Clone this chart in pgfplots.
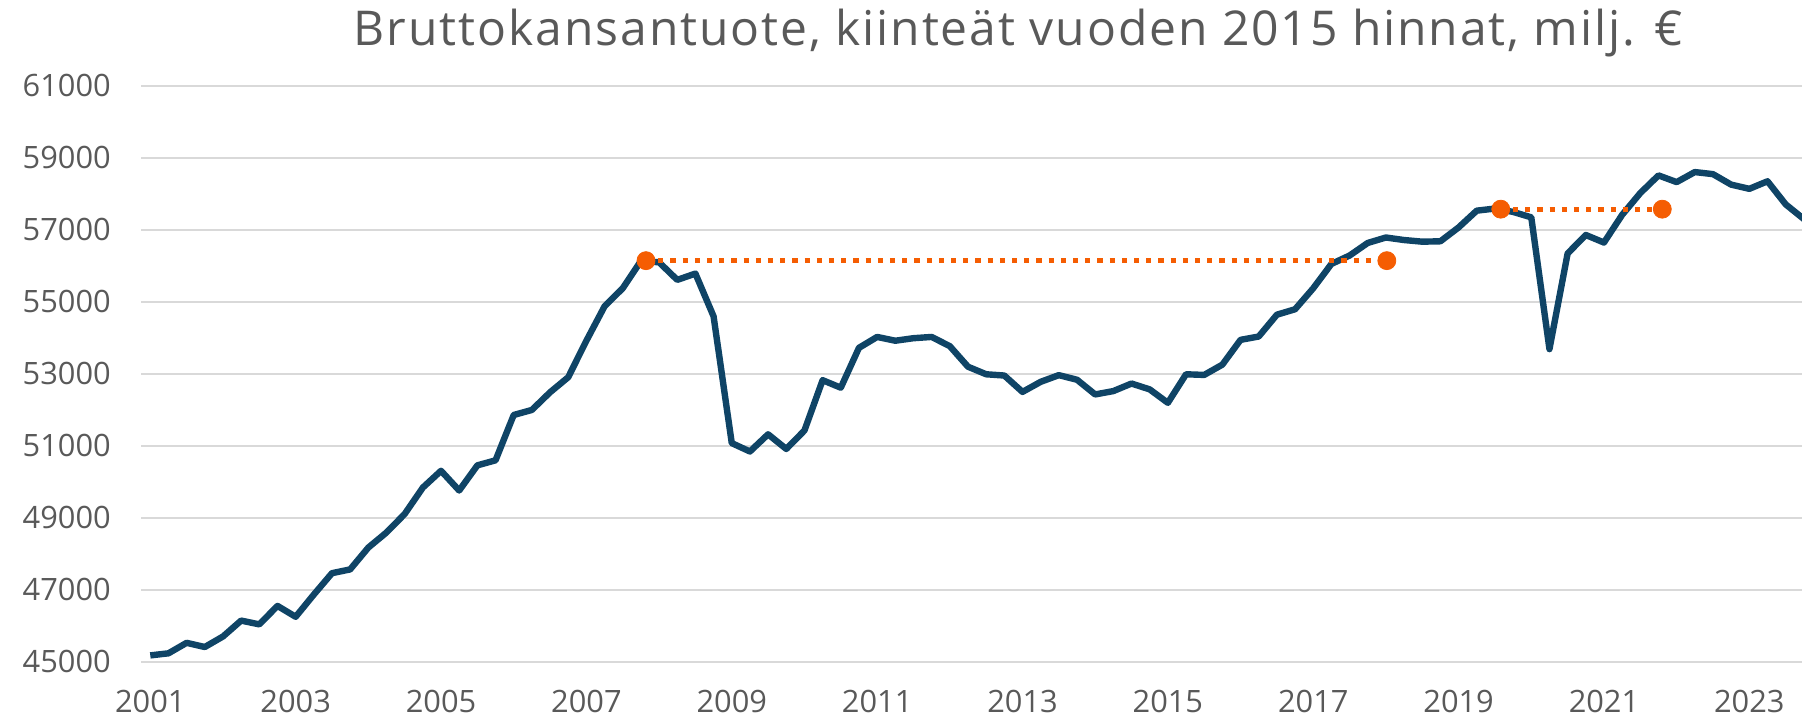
\documentclass[border=0pt]{standalone}
\usepackage{pgfplots}
\pgfplotsset{compat=1.18}
\usepackage{fontspec}
\setmainfont{Open Sans}
\newfontfamily\titlefont[LetterSpace=4.0]{Open Sans}
\definecolor{lineblue}{HTML}{0F4466}
\definecolor{dotorange}{HTML}{F55D02}
\definecolor{gridgrey}{HTML}{D9D9D9}
\definecolor{textgrey}{HTML}{595959}
\pgfplotstableread{
i v
0 45175
1 45233
2 45524
3 45408
4 45700
5 46142
6 46037
7 46550
8 46247
9 46865
10 47459
11 47564
12 48170
13 48590
14 49103
15 49837
16 50303
17 49755
18 50454
19 50594
20 51853
21 51993
22 52483
23 52902
24 53916
25 54872
26 55373
27 56130
28 56095
29 55606
30 55781
31 54592
32 51072
33 50839
34 51317
35 50909
36 51422
37 52820
38 52611
39 53718
40 54021
41 53916
42 53986
43 54021
44 53765
45 53194
46 52984
47 52949
48 52494
49 52774
50 52960
51 52832
52 52424
53 52517
54 52727
55 52564
56 52191
57 52984
58 52966
59 53252
60 53940
61 54033
62 54639
63 54790
64 55373
65 56049
66 56282
67 56632
68 56783
69 56713
70 56667
71 56678
72 57063
73 57529
74 57587
75 57494
76 57343
77 53683
78 56340
79 56853
80 56643
81 57412
82 58018
83 58508
84 58322
85 58601
86 58543
87 58252
88 58135
89 58345
90 57704
91 57296
}\gdp
\begin{document}
\begin{tikzpicture}
\useasboundingbox (0,0) rectangle (901pt,358.5pt);
\begin{axis}[
  at={(70.6pt,27.65pt)}, anchor=south west,
  width=830.4pt, height=288pt, scale only axis,
  xmin=-0.5, xmax=90.9, ymin=45000, ymax=61000,
  axis line style={draw=none},
  major tick length=0pt,
  xtick={0,8,...,88},
  xticklabels={2001,2003,2005,2007,2009,2011,2013,2015,2017,2019,2021,2023},
  ytick={45000,47000,...,61000},
  scaled y ticks=false,
  yticklabel={\pgfmathprintnumber[fixed,1000 sep={}]{\tick}},
  ymajorgrids,
  grid style={gridgrey, line width=1pt},
  tick label style={font=\fontsize{15.4pt}{18pt}\selectfont, text=textgrey, inner sep=0pt},
  yticklabel style={anchor=east, xshift=-15pt},
  xticklabel style={anchor=north, yshift=-14pt},
  /pgf/number format/assume math mode=true,
  clip=true,
]
\addplot[lineblue, line width=3.2pt, line join=round] table[x=i, y=v] {\gdp};
\addplot[dotorange, line width=2.6pt, dash pattern=on 2.6pt off 3.5pt] coordinates {(27.28,56140) (68.05,56140)};
\addplot[dotorange, line width=2.6pt, dash pattern=on 2.6pt off 3.5pt] coordinates {(74.32,57570) (83.21,57570)};
\addplot[only marks, mark=*, mark size=4.5pt, dotorange, mark options={draw=none, fill=dotorange}] coordinates {(27.28,56140) (68.05,56140) (74.32,57570) (83.21,57570)};
\end{axis}
\node[anchor=base, inner sep=0pt, text=textgrey, font=\titlefont\fontsize{24pt}{28pt}\selectfont] at (509.2pt,335.65pt) {Bruttokansantuote, kiinteät vuoden 2015 hinnat, milj. €};
\end{tikzpicture}
\end{document}
